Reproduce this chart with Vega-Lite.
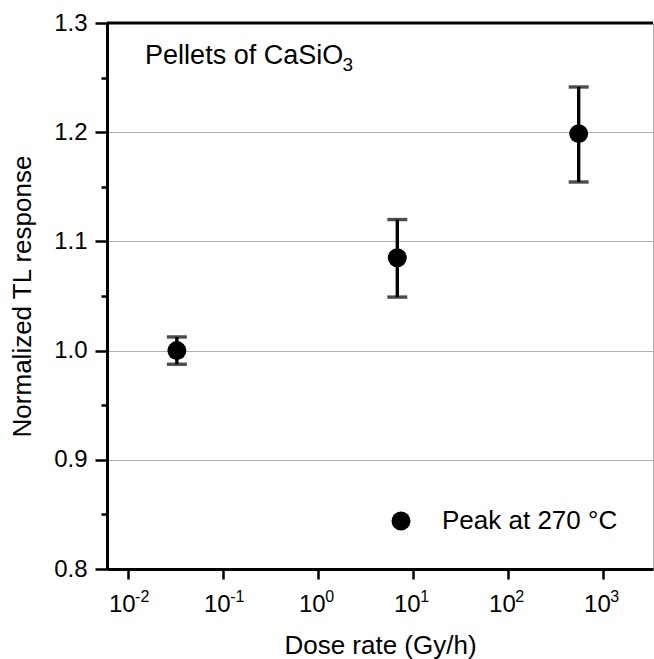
{
  "$schema": "https://vega.github.io/schema/vega-lite/v6.json",
  "width": 546,
  "height": 546,
  "autosize": "none",
  "padding": {"left": 107, "top": 23, "right": 1, "bottom": 90},
  "background": "white",
  "config": {
    "font": "Liberation Sans",
    "view": {"stroke": "#b0b0b0", "strokeWidth": 1}
  },
  "datasets": {
    "points": [
      {"rate": 0.0326, "resp": 1.0, "lo": 0.9875, "hi": 1.0125, "series": "Peak at 270 °C"},
      {"rate": 6.8, "resp": 1.085, "lo": 1.049, "hi": 1.12, "series": "Peak at 270 °C"},
      {"rate": 551, "resp": 1.1987, "lo": 1.1544, "hi": 1.2414, "series": "Peak at 270 °C"}
    ],
    "exponents": [
      {"tick": 0.01, "exp": "-2"},
      {"tick": 0.1, "exp": "-1"},
      {"tick": 1, "exp": "0"},
      {"tick": 10, "exp": "1"},
      {"tick": 100, "exp": "2"},
      {"tick": 1000, "exp": "3"}
    ]
  },
  "data": {"name": "points"},
  "layer": [
    {
      "mark": {"type": "rule", "color": "black", "strokeWidth": 3.4},
      "encoding": {
        "x": {
          "field": "rate",
          "type": "quantitative",
          "scale": {"type": "log", "domain": [0.006, 3334], "nice": false},
          "axis": {
            "orient": "bottom",
            "values": [0.01, 0.1, 1, 10, 100, 1000],
            "labelExpr": "'10'",
            "labelAlign": "right",
            "labelOffset": 7,
            "grid": false,
            "domainColor": "black",
            "domainWidth": 3,
            "tickColor": "black",
            "tickWidth": 2.5,
            "tickSize": 10,
            "labelFontSize": 24,
            "labelColor": "black",
            "labelPadding": 13,
            "labelFlush": false,
            "labelOverlap": false,
            "title": "Dose rate (Gy/h)",
            "titleFontSize": 26,
            "titleFontWeight": "normal",
            "titleColor": "black",
            "titlePadding": 16
          }
        },
        "y": {
          "field": "lo",
          "type": "quantitative",
          "scale": {"domain": [0.8, 1.3], "nice": false, "zero": false},
          "axis": {
            "orient": "left",
            "values": [0.8, 0.85, 0.9, 0.95, 1.0, 1.05, 1.1, 1.15, 1.2, 1.25, 1.3],
            "labelExpr": "abs(datum.value*10 - round(datum.value*10)) < 0.01 ? format(datum.value, '.1f') : ''",
            "tickSize": {"condition": {"test": "abs(datum.value*10 - round(datum.value*10)) < 0.01", "value": 12}, "value": 6},
            "grid": true,
            "gridColor": "#b0b0b0",
            "gridWidth": 1,
            "gridOpacity": {"condition": {"test": "abs(datum.value*10 - round(datum.value*10)) < 0.01 && datum.value > 0.85 && datum.value < 1.25", "value": 1}, "value": 0},
            "domainColor": "black",
            "domainWidth": 3,
            "tickColor": "black",
            "tickWidth": 2.5,
            "labelFontSize": 24,
            "labelColor": "black",
            "labelPadding": 8,
            "labelFlush": false,
            "labelOverlap": false,
            "title": "Normalized TL response",
            "titleFontSize": 26,
            "titleFontWeight": "normal",
            "titleColor": "black",
            "titlePadding": 18
          }
        },
        "y2": {"field": "hi"}
      }
    },
    {
      "mark": {"type": "tick", "orient": "horizontal", "color": "black", "size": 20, "thickness": 3.4},
      "encoding": {
        "x": {"field": "rate", "type": "quantitative"},
        "y": {"field": "lo", "type": "quantitative"}
      }
    },
    {
      "mark": {"type": "tick", "orient": "horizontal", "color": "black", "size": 20, "thickness": 3.4},
      "encoding": {
        "x": {"field": "rate", "type": "quantitative"},
        "y": {"field": "hi", "type": "quantitative"}
      }
    },
    {
      "mark": {"type": "point", "filled": true, "opacity": 1, "shape": "circle", "size": 360},
      "encoding": {
        "x": {"field": "rate", "type": "quantitative"},
        "y": {"field": "resp", "type": "quantitative"},
        "color": {
          "field": "series",
          "type": "nominal",
          "scale": {"range": ["black"]},
          "legend": {
            "orient": "bottom-right",
            "offset": 35,
            "title": null,
            "padding": 0,
            "labelFontSize": 26,
            "labelColor": "black",
            "labelFont": "Liberation Sans",
            "labelLimit": 0,
            "symbolSize": 360,
            "symbolType": "circle",
            "symbolFillColor": "black",
            "symbolStrokeWidth": 0,
            "symbolOpacity": 1,
            "labelOffset": 28
          }
        }
      }
    },
    {
      "data": {"name": "exponents"},
      "mark": {"type": "text", "align": "left", "baseline": "top", "fontSize": 16, "color": "black", "dx": 7, "dy": 20},
      "encoding": {
        "x": {"field": "tick", "type": "quantitative"},
        "y": {"datum": 0.8, "type": "quantitative"},
        "text": {"field": "exp"}
      }
    },
    {
      "data": {"values": [{"label": "Pellets of CaSiO"}]},
      "mark": {"type": "text", "align": "left", "baseline": "alphabetic", "fontSize": 27, "color": "black"},
      "encoding": {
        "x": {"datum": 0.0151, "type": "quantitative"},
        "y": {"datum": 1.2622, "type": "quantitative"},
        "text": {"field": "label"}
      }
    },
    {
      "data": {"values": [{"label": "3"}]},
      "mark": {"type": "text", "align": "left", "baseline": "alphabetic", "fontSize": 19, "color": "black"},
      "encoding": {
        "x": {"datum": 1.8, "type": "quantitative"},
        "y": {"datum": 1.2558, "type": "quantitative"},
        "text": {"field": "label"}
      }
    },
    {
      "data": {"values": [{}]},
      "mark": {"type": "rule", "color": "black", "strokeWidth": 3},
      "encoding": {
        "y": {"datum": 1.3, "type": "quantitative"}
      }
    }
  ]
}
